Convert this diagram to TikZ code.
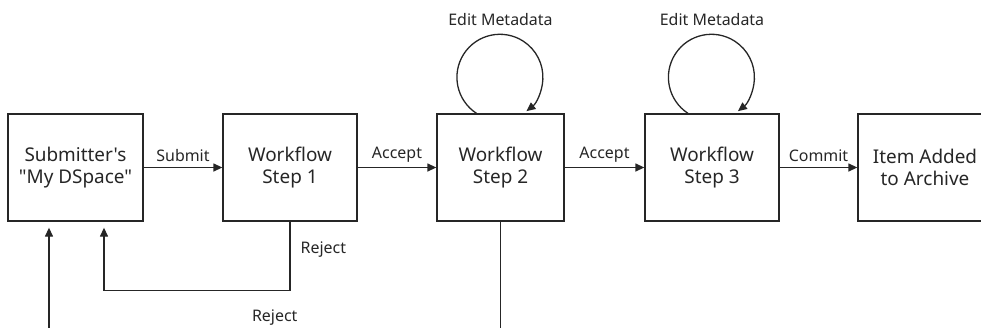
\documentclass[tikz,border=0pt]{standalone}
\usepackage{fontspec}
\newfontfamily\ff{Noto Sans}
\usetikzlibrary{arrows.meta}
\definecolor{ink}{HTML}{262626}
\begin{document}
\begin{tikzpicture}[x=1bp,y=-1bp,
  box/.style={draw=ink, line width=1.3bp, minimum width=134bp, minimum height=107bp,
    inner sep=0pt, align=center, font=\ff\fontsize{19}{22.5}\selectfont, text=ink},
  lbl/.style={font=\ff\fontsize{16}{18}\selectfont, text=ink, inner sep=0pt},
  arr/.style={draw=ink, line width=1.3bp, -{Triangle[length=9bp,width=8bp]}},
  ln/.style={draw=ink, line width=1.3bp}]
\useasboundingbox (0,0) rectangle (981,327);
\clip (0,0) rectangle (981,327);
\node[box, minimum width=135bp] (sub) at (75.5,167.5) {Submitter's\\"My DSpace"};
\node[box] (s1) at (290,167.5) {Workflow\\Step 1};
\node[box, minimum width=127bp] (s2) at (500.5,167.5) {Workflow\\Step 2};
\node[box] (s3) at (712,167.5) {Workflow\\Step 3};
\node[box] (arch) at (925,167.5) {Item Added\\to Archive};
\node[lbl] (em2) at (500.5,20) {Edit Metadata};
\node[lbl] (em3) at (712,20) {Edit Metadata};
\draw[arr] (sub) -- node[lbl, above=5bp] {Submit} (s1);
\draw[arr] (s1) -- node[lbl, above=5bp] {Accept} (s2);
\draw[arr] (s2) -- node[lbl, above=5bp] {Accept} (s3);
\draw[arr] (s3) -- node[lbl, above=5bp] {Commit} (arch);
\draw[arr] ([xshift=-24bp]s2.north) arc[start angle=123, end angle=412, radius=43];
\draw[arr] ([xshift=-24bp]s3.north) arc[start angle=123, end angle=412, radius=43];
\draw[arr] (s1.south) -- node[lbl, right=10bp, pos=0.4] {Reject} ++(0,69)
  -| ([xshift=28.5bp,yshift=-6bp]sub.south);
\draw[arr] (s2.south) -- ++(0,114) -| node[lbl, above=10bp, pos=0.25] {Reject}
  ([xshift=-26.5bp,yshift=-6bp]sub.south);
\end{tikzpicture}
\end{document}
